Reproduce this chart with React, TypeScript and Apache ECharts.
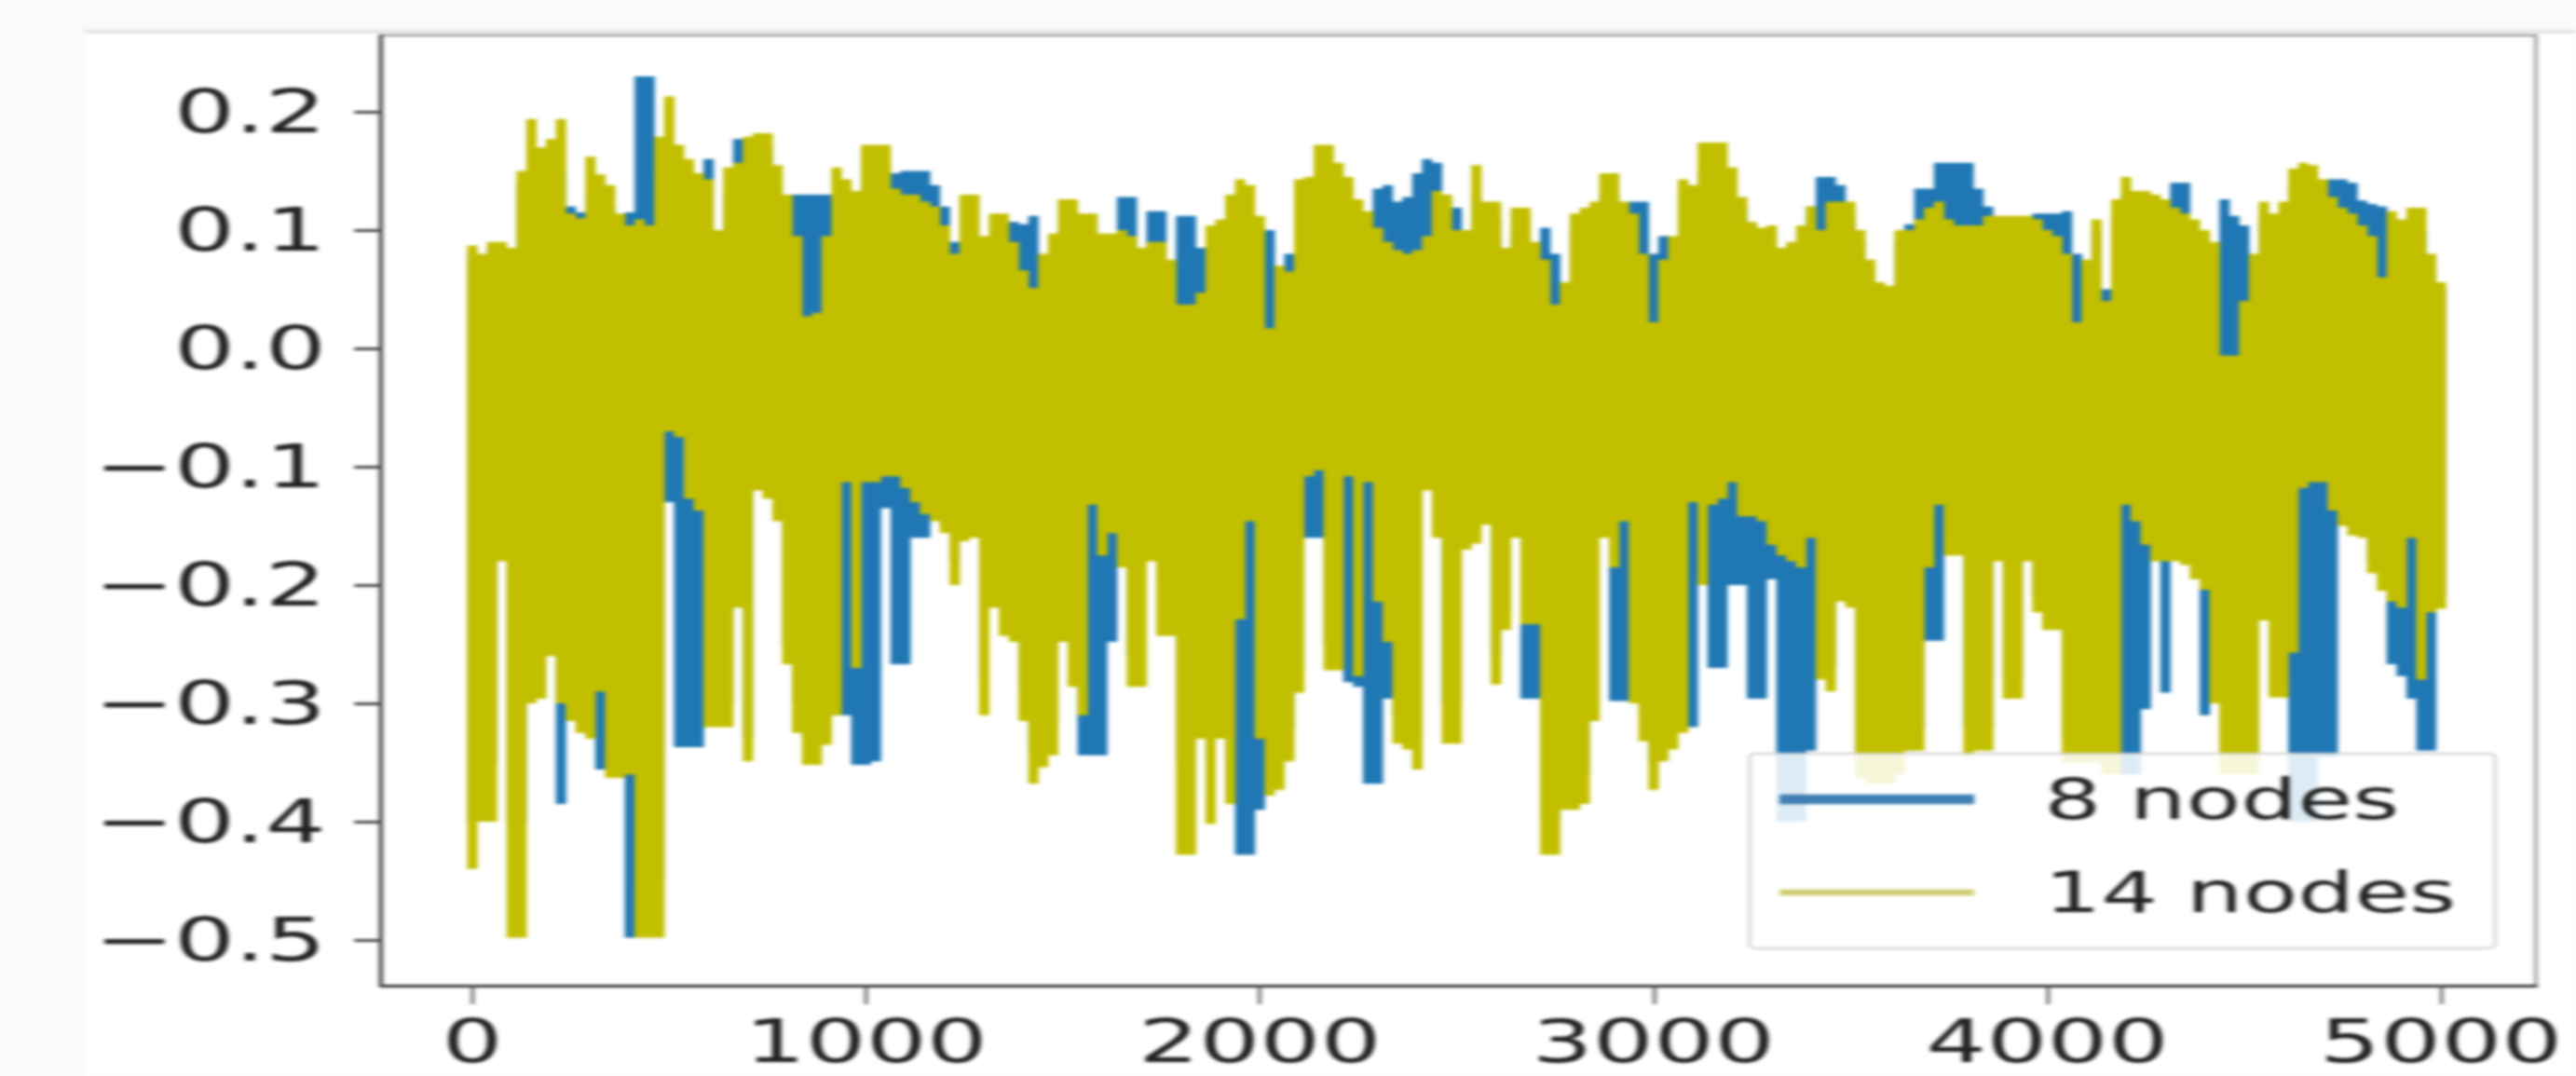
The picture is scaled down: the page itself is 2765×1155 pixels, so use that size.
import React, { useEffect, useRef } from "react";
import * as echarts from "echarts";

const stepX = 25;
const xTicks = [0, 1000, 2000, 3000, 4000, 5000];
const yTicks = [0.2, 0.1, 0, -0.1, -0.2, -0.3, -0.4, -0.5];
const seriesNames = ["8 nodes", "14 nodes"];

const nodes14Upper = [
  .087,.08,.09,.09,.085,.15,.194,.17,.177,.194,
  .114,.11,.162,.147,.138,.114,.104,.109,.104,.179,
  .213,.172,.16,.148,.143,.1,.153,.157,.179,.182,
  .182,.155,.13,.095,.027,.03,.095,.153,.143,.133,
  .172,.172,.172,.135,.13,.13,.124,.12,.104,.08,
  .13,.13,.095,.114,.114,.09,.066,.051,.08,.097,
  .126,.126,.114,.114,.097,.097,.1,.095,.085,.09,
  .09,.075,.037,.037,.047,.104,.109,.13,.143,.138,
  .112,.017,.07,.065,.143,.145,.172,.172,.157,.145,
  .126,.116,.102,.09,.083,.08,.083,.095,.133,.13,
  .1,.1,.155,.124,.124,.085,.119,.119,.09,.075,
  .037,.056,.114,.119,.124,.148,.148,.124,.114,.08,
  .022,.075,.095,.143,.138,.174,.174,.174,.153,.128,
  .107,.102,.104,.085,.09,.104,.12,.1,.124,.124,
  .124,.1,.075,.056,.053,.1,.1,.109,.119,.124,
  .109,.104,.104,.104,.112,.112,.112,.112,.112,.109,
  .1,.095,.08,.022,.075,.109,.04,.126,.145,.133,
  .133,.13,.126,.119,.114,.109,.1,.09,-.006,-.006,
  .04,.08,.124,.114,.124,.152,.157,.155,.143,.128,
  .119,.114,.104,.095,.06,.116,.109,.119,.119,.08,
  .056,
];

const nodes14Lower = [
  -.44,-.40,-.40,-.18,-.498,-.498,-.30,-.296,-.26,-.30,
  -.315,-.325,-.33,-.29,-.363,-.363,-.36,-.498,-.498,-.498,
  -.07,-.075,-.127,-.137,-.32,-.32,-.32,-.219,-.349,-.12,
  -.127,-.146,-.267,-.325,-.352,-.352,-.335,-.31,-.113,-.27,
  -.113,-.113,-.108,-.108,-.118,-.13,-.14,-.146,-.156,-.2,
  -.163,-.16,-.31,-.219,-.243,-.248,-.315,-.368,-.354,-.344,
  -.248,-.286,-.31,-.132,-.175,-.156,-.185,-.286,-.286,-.18,
  -.243,-.243,-.428,-.428,-.33,-.402,-.33,-.385,-.229,-.146,
  -.33,-.378,-.373,-.349,-.291,-.108,-.103,-.272,-.272,-.108,
  -.277,-.113,-.214,-.248,-.334,-.339,-.356,-.12,-.16,-.334,
  -.334,-.17,-.165,-.149,-.284,-.238,-.16,-.233,-.233,-.428,
  -.428,-.39,-.39,-.385,-.315,-.16,-.185,-.146,-.3,-.332,
  -.373,-.349,-.339,-.325,-.13,-.2,-.132,-.127,-.113,-.142,
  -.142,-.146,-.166,-.175,-.18,-.185,-.16,-.28,-.29,-.214,
  -.219,-.363,-.368,-.368,-.368,-.36,-.34,-.34,-.185,-.132,
  -.175,-.175,-.345,-.34,-.34,-.18,-.296,-.296,-.18,-.223,
  -.238,-.238,-.35,-.35,-.35,-.35,-.36,-.36,-.132,-.146,
  -.166,-.18,-.18,-.18,-.183,-.195,-.204,-.3,-.36,-.36,
  -.36,-.36,-.23,-.295,-.295,-.257,-.118,-.113,-.113,-.137,
  -.15,-.158,-.16,-.19,-.205,-.214,-.219,-.16,-.28,-.223,
  -.22,
];

const nodes8Upper = [
  .08,.075,.085,.085,.08,.14,.15,.15,.16,.15,
  .12,.115,.13,.13,.12,.105,.115,.23,.23,.15,
  .17,.16,.15,.14,.16,.09,.13,.177,.177,.17,
  .17,.15,.13,.13,.13,.13,.13,.12,.13,.12,
  .15,.15,.15,.148,.15,.15,.15,.138,.12,.09,
  .08,.08,.085,.07,.1,.107,.105,.112,.075,.09,
  .1,.1,.112,.1,.09,.09,.128,.128,.08,.116,
  .116,.07,.112,.112,.085,.08,.09,.09,.1,.1,
  .1,.1,.06,.08,.13,.13,.14,.14,.14,.13,
  .11,.11,.135,.138,.124,.128,.148,.16,.157,.125,
  .119,.09,.13,.11,.11,.08,.1,.1,.08,.102,
  .08,.05,.1,.1,.11,.13,.13,.11,.124,.124,
  .08,.095,.09,.13,.13,.15,.15,.15,.14,.12,
  .1,.095,.095,.08,.08,.095,.12,.145,.145,.138,
  .11,.09,.07,.05,.05,.09,.105,.135,.135,.157,
  .157,.157,.157,.135,.12,.1,.1,.1,.1,.114,
  .114,.114,.116,.08,.07,.1,.05,.11,.13,.12,
  .12,.12,.12,.14,.14,.1,.09,.085,.126,.112,
  .104,.07,.11,.1,.11,.14,.14,.14,.13,.143,
  .143,.14,.125,.122,.12,.1,.1,.1,.1,.07,
  .05,
];

const nodes8Lower = [
  -.4,-.35,-.35,-.15,-.4,-.4,-.25,-.25,-.25,-.385,
  -.3,-.3,-.32,-.356,-.34,-.35,-.498,-.45,-.45,-.45,
  -.13,-.337,-.337,-.337,-.3,-.3,-.3,-.2,-.33,-.11,
  -.12,-.14,-.25,-.3,-.33,-.33,-.31,-.31,-.31,-.352,
  -.352,-.349,-.135,-.267,-.267,-.16,-.16,-.14,-.15,-.18,
  -.15,-.15,-.28,-.2,-.2,-.22,-.29,-.34,-.33,-.32,
  -.18,-.25,-.344,-.344,-.344,-.248,-.17,-.26,-.26,-.17,
  -.2,-.2,-.35,-.38,-.3,-.35,-.3,-.35,-.428,-.428,
  -.39,-.35,-.35,-.32,-.27,-.16,-.16,-.25,-.25,-.282,
  -.286,-.368,-.368,-.296,-.31,-.31,-.33,-.11,-.15,-.3,
  -.3,-.16,-.15,-.14,-.26,-.22,-.15,-.296,-.296,-.4,
  -.4,-.37,-.37,-.36,-.3,-.15,-.298,-.298,-.28,-.31,
  -.35,-.33,-.32,-.3,-.32,-.19,-.27,-.27,-.2,-.2,
  -.296,-.296,-.195,-.4,-.4,-.4,-.34,-.26,-.27,-.2,
  -.2,-.34,-.34,-.34,-.34,-.34,-.34,-.32,-.247,-.247,
  -.16,-.16,-.32,-.32,-.32,-.17,-.28,-.28,-.17,-.21,
  -.22,-.22,-.33,-.33,-.33,-.33,-.34,-.34,-.36,-.36,
  -.305,-.17,-.291,-.17,-.17,-.18,-.31,-.28,-.34,-.34,
  -.34,-.34,-.22,-.28,-.28,-.4,-.4,-.4,-.345,-.345,
  -.14,-.15,-.15,-.18,-.19,-.267,-.277,-.296,-.34,-.34,
  -.21,
];

const bodyLevel = -0.04;

function envelopePath(upper: number[], lower: number[]) {
  const pts: number[][] = [];
  upper.forEach((u, i) => {
    const x = i * stepX;
    pts.push([x, bodyLevel], [x, u], [x, lower[i]], [x, bodyLevel]);
  });
  return pts;
}

const STRETCH = 1.6;
const W = 2765 / STRETCH;
const H = 1155;
const sx = (px: number) => px / STRETCH;

export default function App() {
  const ref = useRef<HTMLDivElement>(null);
  useEffect(() => {
    document.body.style.margin = "0";
    document.body.style.overflow = "hidden";
    document.body.style.background = "#fafafa";
    const chart = echarts.init(ref.current!, undefined, { renderer: "svg" });
    const font = "DejaVu Sans";
    const ink = "#222";
    chart.setOption({
      animation: false,
      backgroundColor: "#fafafa",
      graphic: [
        { type: "rect", z: -10, silent: true, shape: { x: sx(91), y: 35, width: W, height: H }, style: { fill: "#fff" } },
        { type: "rect", z: -9, silent: true, shape: { x: sx(91), y: 32, width: W, height: 4 }, style: { fill: "#e4e4e4" } },
      ],
      grid: {
        left: sx(409), top: 38, width: sx(2722 - 409), height: 1058 - 38,
        show: true, borderColor: "#8a8a8a", borderWidth: 2, backgroundColor: "#fff",
      },
      xAxis: {
        type: "value", min: -232, max: 5241, splitLine: { show: false },
        axisLine: { onZero: false, lineStyle: { color: "#333", width: 3 } },
        axisTick: { customValues: xTicks, length: 20, lineStyle: { color: "#555", width: 2 } },
        axisLabel: { customValues: xTicks, margin: 28, fontSize: 64, fontFamily: font, color: ink, formatter: (v: number) => String(v) },
      },
      yAxis: {
        type: "value", min: -0.5386, max: 0.2646, splitLine: { show: false },
        axisLine: { onZero: false, lineStyle: { color: "#333", width: 2.5 } },
        axisTick: { customValues: yTicks, length: 18, lineStyle: { color: "#444", width: 3 } },
        axisLabel: {
          customValues: yTicks, margin: 37, fontSize: 64, fontFamily: font, color: ink,
          formatter: (v: number) => (v < 0 ? "\u2212" + Math.abs(v).toFixed(1) : v.toFixed(1)),
        },
      },
      legend: {
        left: sx(1878), top: 809, orient: "vertical",
        padding: [19, 26, 30, 20],
        itemWidth: sx(2119 - 1910), itemHeight: 20, itemGap: 40,
        backgroundColor: "rgba(255,255,255,0.85)",
        borderColor: "#d0d0d0", borderWidth: 2, borderRadius: 4,
        textStyle: { fontSize: 60, fontFamily: font, color: ink, padding: [0, 0, 0, 42] },
        data: [
          { name: seriesNames[0], icon: "path://M0 6H100V14H0Z", itemStyle: { color: "#3f7fb3" } },
          { name: seriesNames[1], icon: "path://M0 7.5H100V12.5H0Z", itemStyle: { color: "#cfcd70" } },
        ],
      },
      series: [
        {
          name: seriesNames[0], type: "line", showSymbol: false, symbol: "none",
          data: envelopePath(nodes8Upper, nodes8Lower),
          itemStyle: { color: "#1f77b4" },
          lineStyle: { color: "#1f77b4", width: 6.9, join: "bevel", cap: "butt" },
        },
        {
          name: seriesNames[1], type: "line", showSymbol: false, symbol: "none",
          data: envelopePath(nodes14Upper, nodes14Lower),
          itemStyle: { color: "#c2bf00" },
          lineStyle: { color: "#c2bf00", width: 6.9, join: "bevel", cap: "butt" },
        },
      ],
    });
    return () => chart.dispose();
  }, []);
  return (
    <div
      ref={ref}
      style={{
        width: W, height: H, position: "absolute", left: 0, top: 0,
        transform: `scaleX(${STRETCH})`, transformOrigin: "0 0", filter: "blur(1.5px)",
      }}
    />
  );
}
